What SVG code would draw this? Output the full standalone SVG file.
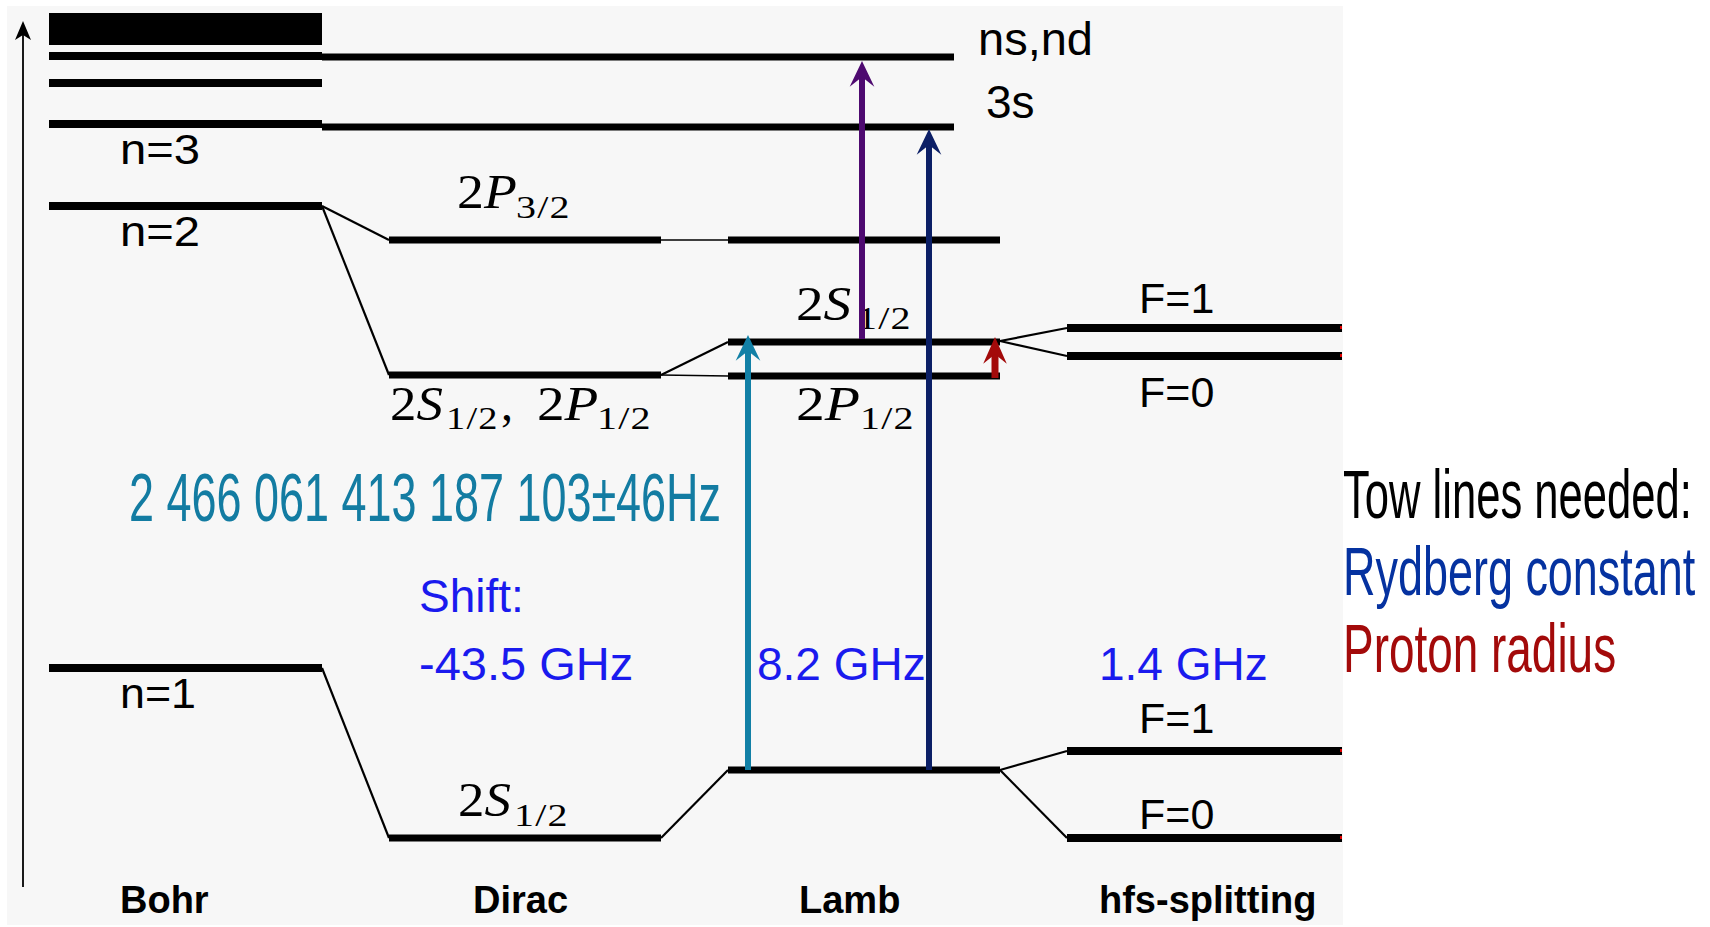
<svg xmlns="http://www.w3.org/2000/svg" width="1710" height="927" viewBox="0 0 1710 927">
<defs>
<style>
.lvl{stroke:#000;stroke-width:7;fill:none}
.lvl8{stroke:#000;stroke-width:8;fill:none}
.thin{stroke:#000;stroke-width:1.5;fill:none}
.conn{stroke:#000;stroke-width:2.2;fill:none}
.lbl{font-family:"Liberation Sans",Arial,sans-serif;font-size:43px;fill:#000}
.big{font-family:"Liberation Sans",Arial,sans-serif;font-size:47px;fill:#000}
.ser{font-family:"Liberation Serif","Times New Roman",serif;font-size:48px;fill:#000}
.it{font-style:italic}
.sub{font-family:"Liberation Serif","Times New Roman",serif;font-size:32px;letter-spacing:1px;fill:#000}
.blue{font-family:"Liberation Sans",Arial,sans-serif;font-size:46px;fill:#1a1aee}
.cat{font-family:"Liberation Sans",Arial,sans-serif;font-size:38px;font-weight:bold;fill:#000}
.cond{font-family:"Liberation Sans",Arial,sans-serif;font-size:68px}
.arr{stroke-width:6;fill:none}
</style>
<marker id="hTeal" markerUnits="userSpaceOnUse" markerWidth="30" markerHeight="30" viewBox="-26 -13 28 26" refX="-14" refY="0" orient="auto"><path d="M0,0 L-24,-11.5 L-15,0 L-24,11.5 Z" fill="#1280a6"/></marker>
<marker id="hPurple" markerUnits="userSpaceOnUse" markerWidth="30" markerHeight="30" viewBox="-26 -13 28 26" refX="-14" refY="0" orient="auto"><path d="M0,0 L-24,-11.5 L-15,0 L-24,11.5 Z" fill="#4e0a70"/></marker>
<marker id="hNavy" markerUnits="userSpaceOnUse" markerWidth="30" markerHeight="30" viewBox="-26 -13 28 26" refX="-14" refY="0" orient="auto"><path d="M0,0 L-24,-11.5 L-15,0 L-24,11.5 Z" fill="#0c1f66"/></marker>
<marker id="hRed" markerUnits="userSpaceOnUse" markerWidth="30" markerHeight="30" viewBox="-26 -13 28 26" refX="-14" refY="0" orient="auto"><path d="M0,0 L-25,-11 L-16,0 L-25,11 Z" fill="#a30a0a"/></marker>
<marker id="hAxis" markerUnits="userSpaceOnUse" markerWidth="24" markerHeight="20" viewBox="-22 -9 24 18" refX="-10" refY="0" orient="auto"><path d="M0,0 L-19,-8 L-14,0 L-19,8 Z" fill="#000"/></marker>
</defs>

<rect id="background" x="7" y="6" width="1336" height="919" fill="#f7f7f7"/>

<g id="axis">
<line x1="23" y1="887" x2="23" y2="31" stroke="#000" stroke-width="1.8" marker-end="url(#hAxis)"/>
</g>

<g id="connectors">
<line class="conn" x1="322" y1="206" x2="389" y2="240"/>
<line class="conn" x1="322" y1="206" x2="389" y2="375"/>
<line class="thin" x1="661" y1="240" x2="728" y2="240"/>
<line class="conn" x1="661" y1="375" x2="728" y2="342"/>
<line class="thin" x1="661" y1="375" x2="728" y2="376"/>
<line class="conn" x1="1000" y1="341" x2="1067" y2="328"/>
<line class="conn" x1="1000" y1="341" x2="1067" y2="356"/>
<line class="conn" x1="322" y1="668" x2="389" y2="838"/>
<line class="conn" x1="661" y1="838" x2="728" y2="770"/>
<line class="conn" x1="1000" y1="770" x2="1067" y2="751"/>
<line class="conn" x1="1000" y1="770" x2="1067" y2="838"/>
</g>

<g id="bohr">
<rect x="49" y="13" width="273" height="32" fill="#000"/>
<line class="lvl8" x1="49" y1="56" x2="322" y2="56"/>
<line class="lvl8" x1="49" y1="83" x2="322" y2="83"/>
<line class="lvl8" x1="49" y1="124" x2="322" y2="124"/>
<line class="lvl8" x1="49" y1="206" x2="322" y2="206"/>
<line class="lvl8" x1="49" y1="668" x2="322" y2="668"/>
<text class="lbl" x="120" y="164" textLength="80" lengthAdjust="spacingAndGlyphs">n=3</text>
<text class="lbl" x="120" y="246" textLength="80" lengthAdjust="spacingAndGlyphs">n=2</text>
<text class="lbl" x="120" y="708" textLength="76" lengthAdjust="spacingAndGlyphs">n=1</text>
</g>

<g id="level-nsnd">
<line class="lvl" x1="322" y1="57" x2="954" y2="57"/>
<text class="big" x="978" y="55">ns,nd</text>
</g>
<g id="level-3s">
<line class="lvl" x1="322" y1="127" x2="954" y2="127"/>
<text class="big" x="986" y="118" style="font-size:46px">3s</text>
</g>

<g id="dirac-2p32">
<line class="lvl" x1="389" y1="240" x2="661" y2="240"/>
<text class="ser" transform="translate(457,208) scale(1.12,1)">2<tspan class="it">P</tspan></text>
<text class="sub" transform="translate(516,218) scale(1.25,1)">3/2</text>
</g>
<g id="dirac-2s2p">
<line class="lvl" x1="389" y1="375" x2="661" y2="375"/>
<text class="ser" transform="translate(390,420) scale(1.1,1)">2<tspan class="it">S</tspan></text>
<text class="sub" transform="translate(446,429) scale(1.2,1)">1/2</text>
<text class="ser" x="501" y="420">,</text>
<text class="ser" transform="translate(537,420) scale(1.15,1)">2<tspan class="it">P</tspan></text>
<text class="sub" transform="translate(597,429) scale(1.25,1)">1/2</text>
</g>
<g id="dirac-1s">
<line class="lvl" x1="389" y1="838" x2="661" y2="838"/>
<text class="ser" transform="translate(458,816) scale(1.1,1)">2<tspan class="it">S</tspan></text>
<text class="sub" transform="translate(514,826) scale(1.25,1)">1/2</text>
</g>

<g id="lamb-2p32">
<line class="lvl" x1="728" y1="240" x2="1000" y2="240"/>
</g>
<g id="lamb-2s12">
<line class="lvl" x1="728" y1="342" x2="1000" y2="342"/>
<text class="ser" transform="translate(796,320) scale(1.15,1)">2<tspan class="it">S</tspan></text>
<text class="sub" transform="translate(857,329) scale(1.25,1)">1/2</text>
</g>
<g id="lamb-2p12">
<line class="lvl" x1="728" y1="376" x2="1000" y2="376"/>
<text class="ser" transform="translate(796,420) scale(1.2,1)">2<tspan class="it">P</tspan></text>
<text class="sub" transform="translate(860,429) scale(1.25,1)">1/2</text>
</g>
<g id="lamb-1s">
<line class="lvl" x1="728" y1="770" x2="1000" y2="770"/>
</g>

<g id="hfs-2s-f1">
<line class="lvl8" x1="1067" y1="328" x2="1342" y2="328"/>
<rect x="1340" y="326" width="2" height="3" fill="#e00000"/>
<text class="lbl" x="1139" y="313">F=1</text>
</g>
<g id="hfs-2s-f0">
<line class="lvl8" x1="1067" y1="356" x2="1342" y2="356"/>
<rect x="1340" y="354" width="2" height="3" fill="#e00000"/>
<text class="lbl" x="1139" y="407">F=0</text>
</g>
<g id="hfs-1s-f1">
<line class="lvl8" x1="1067" y1="751" x2="1342" y2="751"/>
<rect x="1340" y="749" width="2" height="3" fill="#e00000"/>
<text class="lbl" x="1139" y="733">F=1</text>
</g>
<g id="hfs-1s-f0">
<line class="lvl8" x1="1067" y1="838" x2="1342" y2="838"/>
<rect x="1340" y="836" width="2" height="3" fill="#e00000"/>
<text class="lbl" x="1139" y="829">F=0</text>
</g>

<g id="annotations">
<text class="cond" transform="translate(129,521) scale(0.6325,1)" fill="#137ca2" textLength="936" lengthAdjust="spacingAndGlyphs">2 466 061 413 187 103±46Hz</text>
<text class="blue" x="419" y="612">Shift:</text>
<text class="blue" x="419" y="680" style="font-size:47px">-43.5 GHz</text>
<text class="blue" x="757" y="680">8.2 GHz</text>
<text class="blue" x="1099" y="680">1.4 GHz</text>
</g>

<g id="arrows">
<line class="arr" x1="748" y1="770" x2="748" y2="350" stroke="#1280a6" marker-end="url(#hTeal)"/>
<line class="arr" x1="862" y1="339" x2="862" y2="76" stroke="#4e0a70" marker-end="url(#hPurple)"/>
<line class="arr" x1="929" y1="770" x2="929" y2="144" stroke="#0c1f66" marker-end="url(#hNavy)"/>
<line class="arr" x1="995" y1="378" x2="995" y2="352" stroke="#a30a0a" style="stroke-width:7px" marker-end="url(#hRed)"/>
</g>

<g id="categories">
<text class="cat" x="120" y="913">Bohr</text>
<text class="cat" x="473" y="913">Dirac</text>
<text class="cat" x="799" y="913">Lamb</text>
<text class="cat" x="1099" y="913">hfs-splitting</text>
</g>

<g id="notes">
<text class="cond" transform="translate(1343,518) scale(0.632,1)" fill="#000" textLength="552" lengthAdjust="spacingAndGlyphs">Tow lines needed:</text>
<text class="cond" transform="translate(1343,595) scale(0.661,1)" fill="#0532a0" textLength="533" lengthAdjust="spacingAndGlyphs">Rydberg constant</text>
<text class="cond" transform="translate(1343,672) scale(0.676,1)" fill="#a30a0a" textLength="404" lengthAdjust="spacingAndGlyphs">Proton radius</text>
</g>
</svg>
